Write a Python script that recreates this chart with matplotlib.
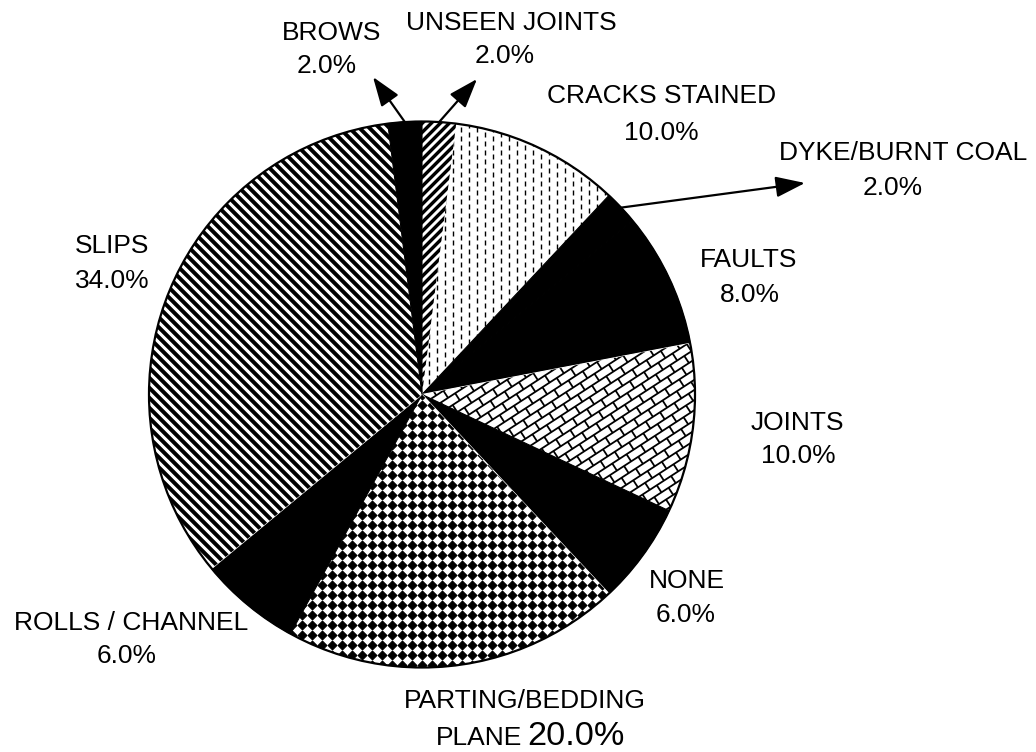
import numpy as np
import matplotlib.pyplot as plt
from matplotlib.collections import LineCollection

plt.rcParams['font.family'] = ['Liberation Sans', 'DejaVu Sans']

# slices, clockwise from 12 o'clock
categories = ["UNSEEN JOINTS", "CRACKS STAINED", "DYKE/BURNT COAL", "FAULTS", "JOINTS",
              "NONE", "PARTING/BEDDING PLANE", "ROLLS / CHANNEL", "SLIPS", "BROWS"]
percent = [2.0, 10.0, 2.0, 8.0, 10.0, 6.0, 20.0, 6.0, 34.0, 2.0]
fills = ["diag_up", "dashes", "solid", "solid", "brick", "solid", "checker", "solid", "diag_down", "solid"]

# first label line (second line is the percentage)
label_top = {
    "UNSEEN JOINTS": "UNSEEN JOINTS",
    "CRACKS STAINED": "CRACKS STAINED",
    "DYKE/BURNT COAL": "DYKE/BURNT COAL",
    "FAULTS": "FAULTS",
    "JOINTS": "JOINTS",
    "NONE": "NONE",
    "PARTING/BEDDING PLANE": "PARTING/BEDDING",
    "ROLLS / CHANNEL": "ROLLS / CHANNEL",
    "SLIPS": "SLIPS",
    "BROWS": "BROWS",
}

W, H = 1036, 752
CX, CY, R = 422, H - 394.5, 273


def py(y):
    # image pixel row -> data y
    return H - y


# label layout in image pixels: (x1, baseline1, x2, baseline2)
label_pos = {
    "UNSEEN JOINTS": (511, 30, 505, 63),
    "CRACKS STAINED": (662, 103, 661, 140),
    "DYKE/BURNT COAL": (903, 160, 893, 195),
    "FAULTS": (749, 267, 750, 302),
    "JOINTS": (797, 430, 798, 463),
    "NONE": (687, 588, 686, 622),
    "ROLLS / CHANNEL": (131, 630, 127, 663),
    "SLIPS": (112, 253, 112, 288),
    "BROWS": (332, 40, 327, 73),
}
# arrow tips for the small slices
arrow_tip = {"BROWS": (373, 77), "UNSEEN JOINTS": (477, 79), "DYKE/BURNT COAL": (805, 183)}

PX = 72.0 / 100  # points per pixel at dpi 100


def stripes(ax, wedge, sign, step, lw):
    # sign=+1 -> '/', sign=-1 -> '\'
    x0, x1 = CX - R - 20, CX + R + 20
    if sign > 0:
        cs = np.arange(CY - R - x1, CY + R - x0, step)
    else:
        cs = np.arange(CY - R + x0, CY + R + x1, step)
    segs = [[(x0, sign * x0 + c), (x1, sign * x1 + c)] for c in cs]
    lc = LineCollection(segs, colors='black', linewidths=lw * PX, zorder=3)
    ax.add_collection(lc)
    lc.set_clip_path(wedge)


def dashes(ax, wedge, dx=8.0, period=9.0, length=5.0, lw=1.4):
    segs = []
    for i, x in enumerate(np.arange(CX - R, CX + R, dx)):
        off = (i % 2) * period / 2
        for y in np.arange(CY - R - period + off, CY + R, period):
            segs.append([(x, y), (x, y + length)])
    lc = LineCollection(segs, colors='black', linewidths=lw * PX, zorder=3)
    ax.add_collection(lc)
    lc.set_clip_path(wedge)


def brick(ax, wedge, ang=33, h=8.5, L=17.0, lw=1.8):
    a = np.deg2rad(ang)
    ca, sa = np.cos(a), np.sin(a)

    def to_xy(u, v):
        return (CX + u * ca - v * sa, CY + u * sa + v * ca)

    span = R + 30
    segs = []
    for k in np.arange(-span // h - 1, span // h + 2):
        v = k * h
        segs.append([to_xy(-span, v), to_xy(span, v)])
        off = (k % 2) * L / 2
        for u in np.arange(-span + off, span, L):
            segs.append([to_xy(u, v), to_xy(u, v + h)])
    lc = LineCollection(segs, colors='black', linewidths=lw * PX, zorder=3)
    ax.add_collection(lc)
    lc.set_clip_path(wedge)


def checker(ax, wedge, g=10.0):
    # diamond checkerboard: black diamonds on a square grid, nearly touching at the corners
    n = int(R / g) + 2
    gx, gy = np.meshgrid(np.arange(-n, n + 1) * g + CX, np.arange(-n, n + 1) * g + CY)
    m = 1.414 * 0.44 * g * PX
    sc = ax.scatter(gx.ravel(), gy.ravel(), s=m ** 2, marker='D', color='black',
                    linewidths=0.8, edgecolors='black', zorder=3)
    sc.set_clip_path(wedge)


fig = plt.figure(figsize=(W / 100, H / 100), dpi=100)
ax = fig.add_axes([0, 0, 1, 1])

colors = ['black' if f == 'solid' else 'white' for f in fills]
wedges, _ = ax.pie(percent, colors=colors, startangle=90, counterclock=False,
                   center=(CX, CY), radius=R, frame=True)
for w, c in zip(wedges, colors):
    w.set_edgecolor(c)
    w.set_linewidth(0.8)

ax.set_xlim(0, W)
ax.set_ylim(0, H)
ax.set_aspect('equal')
ax.axis('off')

for w, f in zip(wedges, fills):
    if f == 'diag_up':
        stripes(ax, w, +1, 9.0, 3.4)
    elif f == 'diag_down':
        stripes(ax, w, -1, 10.0, 4.0)
    elif f == 'dashes':
        dashes(ax, w)
    elif f == 'brick':
        brick(ax, w)
    elif f == 'checker':
        checker(ax, w)

outline = plt.Circle((CX, CY), R, fill=False, edgecolor='black', linewidth=1.6, zorder=4)
ax.add_patch(outline)

FS = 19
for cat, pct in zip(categories, percent):
    if cat == "PARTING/BEDDING PLANE":
        ax.text(525, py(708), label_top[cat], ha='center', va='baseline', fontsize=FS)
        ax.text(522, py(745), "PLANE", ha='right', va='baseline', fontsize=FS)
        ax.text(527, py(745), f"{pct:.1f}%", ha='left', va='baseline', fontsize=FS * 1.3)
        continue
    x1, b1, x2, b2 = label_pos[cat]
    ax.text(x1, py(b1), label_top[cat], ha='center', va='baseline', fontsize=FS)
    ax.text(x2, py(b2), f"{pct:.1f}%", ha='center', va='baseline', fontsize=FS)

for w, cat in zip(wedges, categories):
    if cat not in arrow_tip:
        continue
    mid = np.deg2rad((w.theta1 + w.theta2) / 2)
    start = (CX + R * np.cos(mid), CY + R * np.sin(mid))
    tx, ty = arrow_tip[cat]
    ax.annotate('', xy=(tx, py(ty)), xytext=start, zorder=5,
                arrowprops=dict(arrowstyle='-|>,head_length=0.9,head_width=0.32',
                                color='black', lw=1.6, mutation_scale=20,
                                shrinkA=0, shrinkB=0))

fig.savefig('out.png', dpi=100, facecolor='white')
